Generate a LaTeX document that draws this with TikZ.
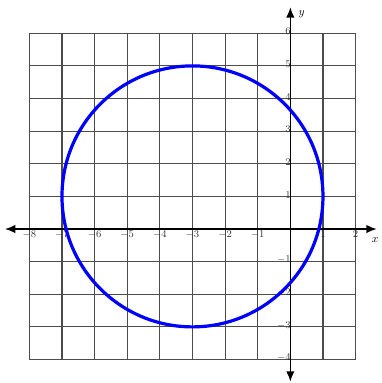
\documentclass[tikz,border=0pt]{standalone}
\usepackage{tikz}
\usetikzlibrary{arrows.meta,positioning}

\begin{document}
\begin{tikzpicture}[font=\small,
      grid/.style={draw=black!70,line width=1pt},
      ax/.style={{Latex[length=3.2mm,width=2.6mm]}-{Latex[length=3.2mm,width=2.6mm]},line width=1.4pt},
      curve/.style={draw=blue,line width=2.8pt},
      tick/.style={inner sep=1pt,text=black!80}]
      \useasboundingbox (-8.9,-4.72) rectangle (2.79,7.02);
      \draw[grid] (-8,-4) grid (2,6);
      % axes
      \coordinate (xl) at (-8.75,0); \coordinate (xr) at (2.65,0);
      \coordinate (yb) at (0,-4.68); \coordinate (yt) at (0,6.8);
      \draw[ax] (xl) -- (xr);
      \draw[ax] (yb) -- (yt);
      \node[font=\normalsize] (xlab) at (2.6,-0.35) {$x$};
      \node[font=\normalsize] (ylab) at (0.35,6.6) {$y$};
      % tick labels
      \foreach \i in {-8,...,-1,1,2}
        \node[tick,below] (x\i) at (\i,-0.02) {$\i$};
      \foreach \j in {-4,...,-1,1,2,...,6}
        \node[tick,left] (y\j) at (0.05,\j+0.05) {$\j$};
      % circle
      \node[curve,circle,minimum size=8cm,inner sep=0pt] (c) at (-3,1) {};
    \end{tikzpicture}
\end{document}
